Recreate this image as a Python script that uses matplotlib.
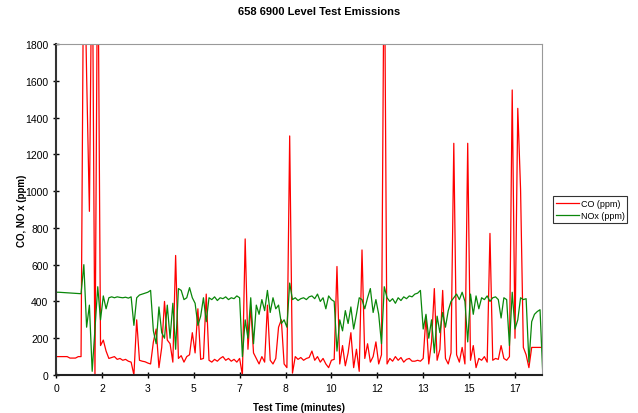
import numpy as np
import matplotlib.pyplot as plt

# readings every 0.1 minute
co_ppm = [
    100, 100, 100, 100, 100, 92, 92, 92, 100, 100,
    2500, 1630, 890, 2500, 0, 2500, 160, 190, 130, 90,
    95, 100, 85, 90, 80, 85, 75, 70, 0, 300,
    80, 75, 72, 65, 60, 180, 250, 40, 150, 400,
    190, 170, 70, 650, 90, 105, 70, 100, 110, 230,
    120, 360, 85, 90, 440, 80, 70, 85, 75, 90,
    100, 80, 90, 75, 85, 70, 90, 0, 740, 140,
    370, 120, 90, 60, 100, 70, 380, 80, 60, 90,
    260, 300, 60, 40, 1300, 10, 100, 85, 95, 80,
    90, 95, 130, 80, 100, 70, 90, 60, 40, 80,
    85, 590, 60, 160, 50, 120, 230, 40, 140, 20,
    680, 90, 170, 70, 100, 180, 60, 110, 2500, 60,
    90, 75, 100, 80, 95, 70, 85, 90, 75, 75,
    80, 75, 90, 320, 60, 180, 470, 80, 140, 460,
    90, 60, 120, 1260, 110, 70, 150, 60, 1260, 80,
    160, 40, 90, 80, 100, 70, 770, 80, 90, 85,
    160, 90, 80, 100, 1550, 200, 1450, 1010, 150, 110,
    40, 150, 150, 150, 150, 150,
]

nox_ppm = [
    450, 450, 449, 448, 447, 446, 445, 444, 443, 442,
    600, 260, 380, 20, 250, 480, 300, 430, 360, 420,
    425, 420, 425, 422, 420, 423, 418, 425, 270, 420,
    435, 440, 445, 450, 460, 240, 170, 370, 230, 200,
    380, 200, 390, 140, 470, 460, 410, 420, 475, 420,
    390, 270, 320, 420, 290, 420, 410, 425, 405, 420,
    415, 425, 410, 420, 415, 430, 420, 100, 300, 200,
    420, 170, 380, 330, 410, 350, 460, 340, 420, 360,
    380, 280, 300, 260, 500, 410, 420, 405, 415, 420,
    410, 425, 430, 415, 440, 400, 420, 360, 430, 410,
    400, 130, 300, 240, 350, 280, 370, 250, 330, 420,
    410, 360, 420, 470, 340, 410, 330, 170, 480, 420,
    400, 415, 390, 420, 405, 425, 415, 430, 425, 440,
    445, 460, 250, 330, 200, 300, 120, 320, 230, 340,
    260, 350, 400, 420, 440, 410, 450, 400, 180, 440,
    330, 430, 360, 420, 410, 430, 400, 420, 425, 410,
    310, 420, 410, 160, 450, 250, 300, 420, 410, 415,
    70, 290, 330, 345, 355, 0,
]

tick_labels = ['0', '2', '3', '5', '7', '8', '10', '12', '13', '15', '17']

minutes = np.arange(len(co_ppm)) * 0.1

plt.rcParams['font.family'] = ['Liberation Sans', 'DejaVu Sans']

fig = plt.figure(figsize=(6.38, 4.14), dpi=100)
ax = fig.add_axes([0.0878, 0.0918, 0.7617, 0.7995])

ax.plot(minutes, co_ppm, color='#ff0000', linewidth=0.9, label='CO (ppm)')
ax.plot(minutes, nox_ppm, color='#0a870a', linewidth=0.9, label='NOx (ppm)')

ax.set_xlim(0, 17.47)
ax.set_ylim(0, 1800)

ax.set_xticks(np.arange(len(tick_labels)) * 1.65)
ax.set_xticklabels(tick_labels)
ax.set_yticks(np.arange(0, 1801, 200))

ax.tick_params(direction='inout', length=4, width=1, labelsize=7.5, colors='black')

ax.spines['left'].set_linewidth(1.5)
ax.spines['bottom'].set_linewidth(1.5)
ax.spines['left'].set_color('#333333')
ax.spines['bottom'].set_color('#222222')
ax.spines['top'].set_color('#999999')
ax.spines['right'].set_color('#999999')

fig.suptitle("658 6900 Level Test Emissions", x=0.5, y=0.971, va='center',
             fontsize=8, fontweight='bold')
ax.set_xlabel("Test Time (minutes)", fontsize=7, fontweight='bold', labelpad=7)
ax.set_ylabel("CO, NO x (ppm)", fontsize=7, fontweight='bold', labelpad=-1.5)

leg = fig.legend(
    loc='center',
    bbox_to_anchor=(0.925, 0.4915),
    fontsize=6.5,
    frameon=True,
    fancybox=False,
    handlelength=2.6,
    borderpad=0.3,
    labelspacing=0.35,
    handletextpad=0.2,
    borderaxespad=0,
)
leg.get_frame().set_edgecolor('black')
leg.get_frame().set_linewidth(0.8)

fig.savefig('out.png', dpi=100)
